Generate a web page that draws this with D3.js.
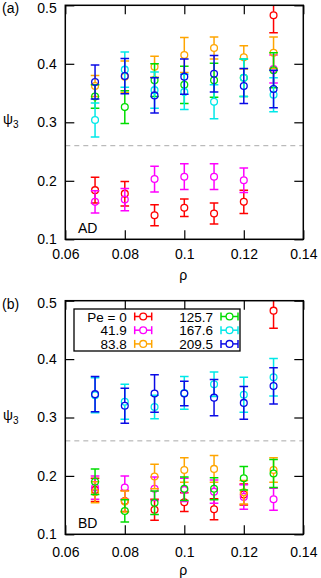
<!DOCTYPE html>
<html>
<head>
<meta charset="utf-8">
<script src="https://cdn.jsdelivr.net/npm/d3@7"></script>
<style>
  body { margin: 0; background: #fff; }
  text { font-family: "Liberation Sans", Arial, Helvetica, sans-serif; font-size: 14px; fill: #000; }
  .axis path { display: none; }
  .axis line { stroke: #000; stroke-width: 1.2; }
  .frame { fill: none; stroke: #000; stroke-width: 1.5; }
  .ref { stroke: #aaa; stroke-width: 1; stroke-dasharray: 5,4; }
</style>
</head>
<body>
<div id="chart"></div>
<script>
// Density values (x) shared by every series
let rho = [0.07, 0.08, 0.09, 0.10, 0.11, 0.12, 0.13];

// Legend labels, one per Peclet number
let peLabels = ["Pe = 0", "41.9", "83.8", "125.7", "167.6", "209.5"];

let xTicks = [0.06, 0.08, 0.1, 0.12, 0.14];
let yTicks = [0.1, 0.2, 0.3, 0.4, 0.5];
let refLevel = 0.26;

// Panel (a), AD: mean psi_3 and error
let adPe0 = [0.184, 0.178, 0.141, 0.154, 0.144, 0.164, 0.483];
let adPe0Err = [0.022, 0.021, 0.018, 0.015, 0.018, 0.020, 0.030];
let adPe42 = [0.164, 0.168, 0.203, 0.207, 0.207, 0.201, 0.391];
let adPe42Err = [0.019, 0.019, 0.022, 0.022, 0.022, 0.021, 0.024];
let adPe84 = [0.362, 0.378, 0.395, 0.415, 0.427, 0.411, 0.419];
let adPe84Err = [0.018, 0.027, 0.018, 0.030, 0.019, 0.020, 0.027];
let adPe126 = [0.344, 0.326, 0.372, 0.364, 0.372, 0.376, 0.389];
let adPe126Err = [0.020, 0.028, 0.028, 0.032, 0.029, 0.032, 0.030];
let adPe168 = [0.304, 0.390, 0.355, 0.352, 0.335, 0.376, 0.347];
let adPe168Err = [0.029, 0.030, 0.031, 0.030, 0.029, 0.032, 0.029];
let adPe210 = [0.369, 0.379, 0.346, 0.378, 0.383, 0.362, 0.357];
let adPe210Err = [0.029, 0.030, 0.030, 0.030, 0.031, 0.030, 0.032];

// Panel (b), BD
let bdPe0 = [0.176, 0.157, 0.142, 0.155, 0.143, 0.168, 0.483];
let bdPe0Err = [0.020, 0.018, 0.018, 0.016, 0.018, 0.018, 0.030];
let bdPe42 = [0.180, 0.180, 0.178, 0.176, 0.173, 0.164, 0.160];
let bdPe42Err = [0.020, 0.020, 0.020, 0.020, 0.020, 0.021, 0.019];
let bdPe84 = [0.172, 0.156, 0.199, 0.210, 0.212, 0.172, 0.210];
let bdPe84Err = [0.018, 0.018, 0.021, 0.021, 0.023, 0.020, 0.021];
let bdPe126 = [0.190, 0.140, 0.154, 0.178, 0.178, 0.196, 0.204];
let bdPe126Err = [0.022, 0.019, 0.020, 0.020, 0.019, 0.020, 0.024];
let bdPe168 = [0.338, 0.327, 0.318, 0.342, 0.357, 0.339, 0.369];
let bdPe168Err = [0.030, 0.030, 0.020, 0.028, 0.021, 0.030, 0.032];
let bdPe210 = [0.340, 0.320, 0.341, 0.341, 0.334, 0.325, 0.354];
let bdPe210Err = [0.030, 0.030, 0.032, 0.021, 0.031, 0.028, 0.031];

let colors = ["#ff0000", "#ff00ff", "#ffa500", "#00dd00", "#00e8e8", "#0a0ae6"];

let width = 321;
let height = 578;
let left = 65.3, right = 303.3;
let capHalf = 4.3;
let r = 3.4;

let svg = d3.select("#chart")
    .append("svg")
    .attr("width", width)
    .attr("height", height);

let xScale = d3.scaleLinear().domain([0.06, 0.14]).range([left, right]);

function drawPanel(opts) {
    let yScale = d3.scaleLinear().domain([0.1, 0.5]).range([opts.bottom, opts.top]);
    let g = svg.append("g");

    g.append("clipPath").attr("id", opts.id)
        .append("rect")
        .attr("x", left).attr("y", opts.top)
        .attr("width", right - left).attr("height", opts.bottom - opts.top);

    // dashed reference line
    g.append("line")
        .attr("class", "ref")
        .attr("x1", left).attr("x2", right)
        .attr("y1", yScale(refLevel)).attr("y2", yScale(refLevel));

    let plot = g.append("g").attr("clip-path", "url(#" + opts.id + ")");

    opts.series.forEach(function (s, i) {
        let pts = rho.map(function (x, j) { return { x: x, y: s.values[j], e: s.errors[j] }; });
        let sg = plot.append("g").attr("stroke", colors[i]).attr("stroke-width", 1.5).attr("fill", "none");
        pts.forEach(function (d) {
            let cx = xScale(d.x), cy = yScale(d.y);
            let yt = yScale(d.y + d.e), yb = yScale(d.y - d.e);
            // vertical bar, broken at the marker
            sg.append("line").attr("x1", cx).attr("x2", cx).attr("y1", yt).attr("y2", Math.min(cy - r, yb));
            sg.append("line").attr("x1", cx).attr("x2", cx).attr("y1", Math.max(cy + r, yt)).attr("y2", yb);
            sg.append("line").attr("x1", cx - capHalf).attr("x2", cx + capHalf).attr("y1", yt).attr("y2", yt);
            sg.append("line").attr("x1", cx - capHalf).attr("x2", cx + capHalf).attr("y1", yb).attr("y2", yb);
            sg.append("circle").attr("cx", cx).attr("cy", cy).attr("r", r).attr("stroke-width", 1.3);
        });
    });

    // axes with inward ticks on all four sides
    g.append("g").attr("class", "axis")
        .attr("transform", "translate(" + left + ",0)")
        .call(d3.axisLeft(yScale).tickValues(yTicks).tickSize(-9).tickPadding(8.5)
            .tickFormat(d3.format("")))
        .selectAll("text")
        .attr("dy", function (d) { return d === 0.5 ? "0.5em" : "0.32em"; });
    g.append("g").attr("class", "axis")
        .attr("transform", "translate(" + right + ",0)")
        .call(d3.axisRight(yScale).tickValues(yTicks).tickSize(-9).tickFormat(""));
    g.append("g").attr("class", "axis")
        .attr("transform", "translate(0," + opts.bottom + ")")
        .call(d3.axisBottom(xScale).tickValues(xTicks).tickSize(-9).tickPadding(opts.xPad)
            .tickFormat(d3.format("")));
    g.append("g").attr("class", "axis")
        .attr("transform", "translate(0," + opts.top + ")")
        .call(d3.axisTop(xScale).tickValues(xTicks).tickSize(-9).tickFormat(""));

    g.selectAll(".axis text").style("font-size", "14px").attr("fill", "#000");

    g.append("rect").attr("class", "frame")
        .attr("x", left).attr("y", opts.top)
        .attr("width", right - left).attr("height", opts.bottom - opts.top);

    // labels
    g.append("text").attr("x", 2).attr("y", opts.top + 8).text(opts.tag);
    g.append("text").attr("x", 78).attr("y", opts.bottom - 6).text(opts.name);
    let yl = g.append("text").attr("x", 3).attr("y", (opts.top + opts.bottom) / 2 + 2);
    yl.append("tspan").text("ψ");
    yl.append("tspan").attr("dy", 4).style("font-size", "10px").text("3");
    g.append("text").attr("x", (left + right) / 2 - 1).attr("y", opts.rhoY)
        .attr("text-anchor", "middle").text("ρ");

    return yScale;
}

drawPanel({
    id: "clipA", top: 5.3, bottom: 239.3, xPad: 10, rhoY: 280, tag: "(a)", name: "AD",
    series: [
        { values: adPe0, errors: adPe0Err },
        { values: adPe42, errors: adPe42Err },
        { values: adPe84, errors: adPe84Err },
        { values: adPe126, errors: adPe126Err },
        { values: adPe168, errors: adPe168Err },
        { values: adPe210, errors: adPe210Err }
    ]
});

drawPanel({
    id: "clipB", top: 300.7, bottom: 534.3, xPad: 12.5, rhoY: 575, tag: "(b)", name: "BD",
    series: [
        { values: bdPe0, errors: bdPe0Err },
        { values: bdPe42, errors: bdPe42Err },
        { values: bdPe84, errors: bdPe84Err },
        { values: bdPe126, errors: bdPe126Err },
        { values: bdPe168, errors: bdPe168Err },
        { values: bdPe210, errors: bdPe210Err }
    ]
});

// Legend box in panel (b)
let legend = svg.append("g");
legend.append("rect")
    .attr("x", 74).attr("y", 309).attr("width", 166).attr("height", 42)
    .attr("fill", "#fff").attr("stroke", "#000").attr("stroke-width", 1.3);

peLabels.forEach(function (label, i) {
    let col = Math.floor(i / 3), row = i % 3;
    let tx = col === 0 ? 126.7 : 213;
    let ty = 316.5 + row * 13.7;
    legend.append("text")
        .attr("x", tx).attr("y", ty + 5)
        .attr("text-anchor", "end")
        .style("font-size", "13.5px")
        .text(label);
    let sx = tx + 8, ex = tx + 25, mx = (sx + ex) / 2;
    let lg = legend.append("g").attr("stroke", colors[i]).attr("stroke-width", 1.5).attr("fill", "none");
    lg.append("line").attr("x1", sx).attr("x2", mx - r).attr("y1", ty).attr("y2", ty);
    lg.append("line").attr("x1", mx + r).attr("x2", ex).attr("y1", ty).attr("y2", ty);
    lg.append("line").attr("x1", sx).attr("x2", sx).attr("y1", ty - 4).attr("y2", ty + 4);
    lg.append("line").attr("x1", ex).attr("x2", ex).attr("y1", ty - 4).attr("y2", ty + 4);
    lg.append("circle").attr("cx", mx).attr("cy", ty).attr("r", r).attr("stroke-width", 1.3);
});
</script>
</body>
</html>
